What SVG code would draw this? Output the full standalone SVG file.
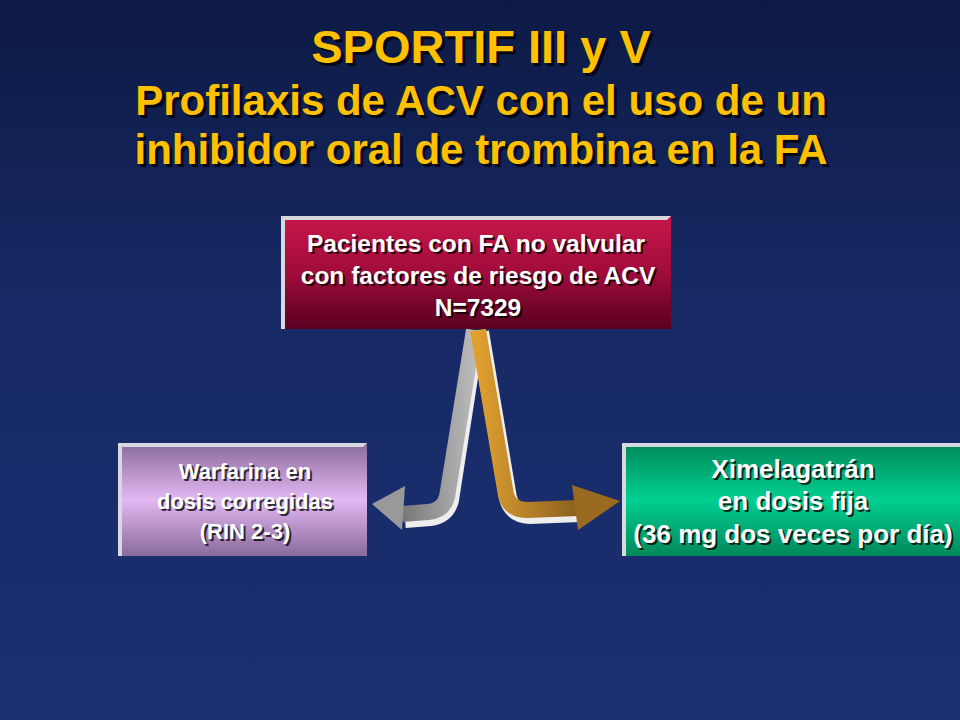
<svg xmlns="http://www.w3.org/2000/svg" width="960" height="720" viewBox="0 0 960 720">
<defs>
<linearGradient id="bg" x1="0" y1="0" x2="0" y2="1"><stop offset="0" stop-color="#0d1a45"/><stop offset="0.45" stop-color="#172a66"/><stop offset="1" stop-color="#1b2f72"/></linearGradient>
<linearGradient id="red" x1="0" y1="0" x2="0" y2="1"><stop offset="0" stop-color="#c8174a"/><stop offset="0.5" stop-color="#a00c3a"/><stop offset="1" stop-color="#5a0020"/></linearGradient>
<linearGradient id="pur" x1="0" y1="0" x2="0" y2="1"><stop offset="0" stop-color="#8a6a9c"/><stop offset="0.5" stop-color="#e2b8f2"/><stop offset="1" stop-color="#8a6a9c"/></linearGradient>
<linearGradient id="grn" x1="0" y1="0" x2="0" y2="1"><stop offset="0" stop-color="#00885a"/><stop offset="0.5" stop-color="#00d090"/><stop offset="1" stop-color="#00885a"/></linearGradient>
<linearGradient id="gry" x1="0" y1="0" x2="1" y2="0"><stop offset="0" stop-color="#777"/><stop offset="1" stop-color="#bbb"/></linearGradient>
<linearGradient id="gld" x1="0" y1="0" x2="1" y2="0"><stop offset="0" stop-color="#e0a030"/><stop offset="1" stop-color="#8a6020"/></linearGradient>
<style>
text{font-family:"Liberation Sans",Arial,sans-serif;font-weight:bold;text-anchor:middle}
.y{fill:#ffc000}
.w{fill:#fff}
.sh{fill:#000;opacity:.75}
.edge{fill:#d8d8e0}
</style>
</defs>
<rect width="960" height="720" fill="url(#bg)"/>
<g id="title">
<text class="sh" x="484" y="66" font-size="47">SPORTIF III y V</text>
<text class="y" x="481" y="63" font-size="47">SPORTIF III y V</text>
<text class="sh" x="484" y="118" font-size="42">Profilaxis de ACV con el uso de un</text>
<text class="y" x="481" y="115" font-size="42">Profilaxis de ACV con el uso de un</text>
<text class="sh" x="484" y="167" font-size="42">inhibidor oral de trombina en la FA</text>
<text class="y" x="481" y="164" font-size="42">inhibidor oral de trombina en la FA</text>
</g>
<g id="connectors">
<path d="M476 332 L450 500 Q446 515 430 517 L405 519" fill="none" stroke="#eee" stroke-width="18"/>
<path d="M474 330 L447 497 Q443 511 428 512 L402 514" fill="none" stroke="url(#gry)" stroke-width="16"/>
<polygon points="372,504 405,486 402,530" fill="#999"/>
<path d="M480 332 L508 498 Q512 514 530 515 L580 513" fill="none" stroke="#eee" stroke-width="18"/>
<path d="M478 330 L506 495 Q510 510 528 510 L578 508" fill="none" stroke="url(#gld)" stroke-width="16"/>
<polygon points="620,501 572,485 578,530" fill="#9a6a20"/>
</g>
<g id="n1" font-size="24.5">
<rect x="281" y="216" width="390" height="113" fill="url(#red)"/>
<path d="M281 216 H671 L667 220 H285 V329 H281Z" class="edge"/>
<text class="sh" x="478" y="254">Pacientes con FA no valvular</text>
<text class="w" x="476" y="252">Pacientes con FA no valvular</text>
<text class="sh" x="480" y="286">con factores de riesgo de ACV</text>
<text class="w" x="478" y="284">con factores de riesgo de ACV</text>
<text class="sh" x="480" y="318">N=7329</text>
<text class="w" x="478" y="316">N=7329</text>
</g>
<g id="n2" font-size="22">
<rect x="118" y="443" width="249" height="113" fill="url(#pur)"/>
<path d="M118 443 H367 L363 447 H122 V556 H118Z" class="edge"/>
<text class="sh" x="247" y="481">Warfarina en</text>
<text class="w" x="245" y="479">Warfarina en</text>
<text class="sh" x="247" y="511">dosis corregidas</text>
<text class="w" x="245" y="509">dosis corregidas</text>
<text class="sh" x="247" y="541">(RIN 2-3)</text>
<text class="w" x="245" y="539">(RIN 2-3)</text>
</g>
<g id="n3" font-size="26">
<rect x="622" y="443" width="338" height="113" fill="url(#grn)"/>
<path d="M622 443 H960 V447 H626 V556 H622Z" class="edge"/>
<text class="sh" x="795" y="480">Ximelagatrán</text>
<text class="w" x="793" y="478">Ximelagatrán</text>
<text class="sh" x="795" y="512">en dosis fija</text>
<text class="w" x="793" y="510">en dosis fija</text>
<text class="sh" x="795" y="545">(36 mg dos veces por día)</text>
<text class="w" x="793" y="543">(36 mg dos veces por día)</text>
</g>
</svg>
